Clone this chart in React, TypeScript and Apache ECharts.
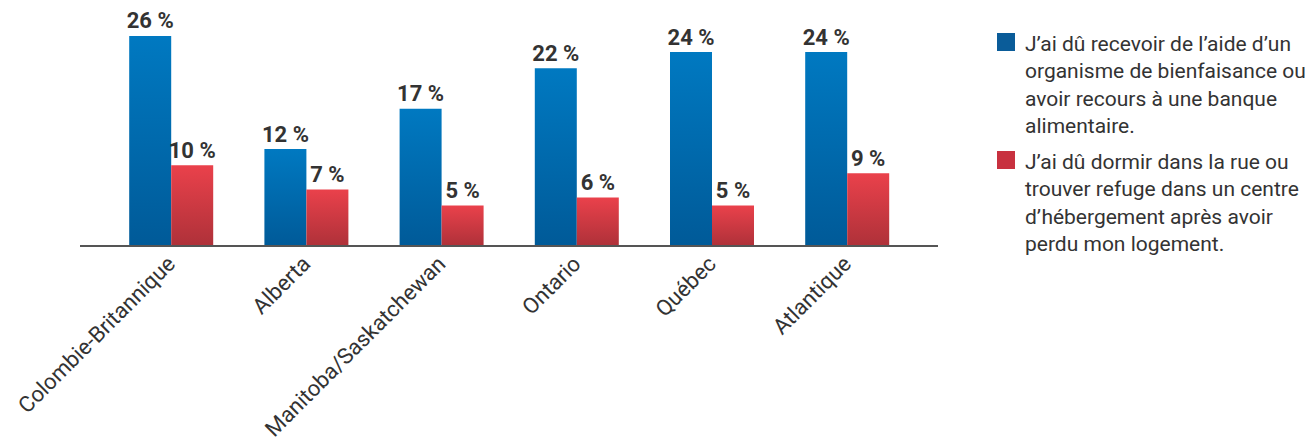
import React, { useEffect, useRef } from "react";
import * as echarts from "echarts";

const categories = [
  "Colombie-Britannique",
  "Alberta",
  "Manitoba/Saskatchewan",
  "Ontario",
  "Québec",
  "Atlantique",
];
const seriesNames = [
  "J’ai dû recevoir de l’aide d’un\norganisme de bienfaisance ou\navoir recours à une banque\nalimentaire.",
  "J’ai dû dormir dans la rue ou\ntrouver refuge dans un centre\nd’hébergement après avoir\nperdu mon logement.",
];
const foodBank = [26, 12, 17, 22, 24, 24];
const shelter = [10, 7, 5, 6, 5, 9];

const FONT = "Roboto, 'Liberation Sans', Arial, sans-serif";

export default function App() {
  const ref = useRef<HTMLDivElement>(null);
  useEffect(() => {
    if (!ref.current) return;
    const chart = echarts.init(ref.current, undefined, { renderer: "svg" });
    const blue = new echarts.graphic.LinearGradient(0, 0, 0, 1, [
      { offset: 0, color: "#0079c1" },
      { offset: 1, color: "#005a98" },
    ]);
    const red = new echarts.graphic.LinearGradient(0, 0, 0, 1, [
      { offset: 0, color: "#ea414b" },
      { offset: 1, color: "#ae3139" },
    ]);
    const labelCfg = {
      show: true,
      position: "top" as const,
      distance: 4,
      formatter: "{c} %",
      fontFamily: FONT,
      fontWeight: "bold" as const,
      fontSize: 22,
      color: "#333333",
    };
    const legendColors = ["#0a5c99", "#c8313f"];
    const legendY = [33, 151];
    const graphic: any[] = [
      {
        type: "line",
        shape: { x1: 80, y1: 246, x2: 938, y2: 246 },
        style: { stroke: "#555555", lineWidth: 2 },
        z: 10,
      },
    ];
    seriesNames.forEach((name, i) => {
      graphic.push({
        type: "rect",
        shape: { x: 997, y: legendY[i], width: 18, height: 18 },
        style: { fill: legendColors[i] },
      });
      graphic.push({
        type: "text",
        x: 1025,
        y: legendY[i] - 3,
        style: {
          text: name,
          fontFamily: FONT,
          fontSize: 21,
          lineHeight: 27.5,
          fill: "#333333",
          textVerticalAlign: "top",
        },
      });
    });
    chart.setOption({
      animation: false,
      grid: {
        left: 103.6,
        width: 811.2,
        top: 3.6,
        bottom: 194,
        containLabel: false,
        outerBoundsMode: "none",
      },
      xAxis: {
        type: "category",
        data: categories,
        axisLine: { show: false },
        axisTick: { show: false },
        axisLabel: {
          rotate: 45,
          margin: 14,
          interval: 0,
          fontFamily: FONT,
          fontSize: 22,
          color: "#333333",
        },
      },
      yAxis: {
        type: "value",
        min: 0,
        max: 30,
        show: false,
        splitLine: { show: false },
      },
      series: [
        {
          name: seriesNames[0],
          type: "bar",
          data: foodBank,
          barWidth: 42,
          barGap: "0%",
          itemStyle: { color: blue },
          label: labelCfg,
        },
        {
          name: seriesNames[1],
          type: "bar",
          data: shelter,
          barWidth: 42,
          barGap: "0%",
          itemStyle: { color: red },
          label: labelCfg,
        },
      ],
      graphic,
    });
    return () => chart.dispose();
  }, []);
  return (
    <div
      ref={ref}
      style={{ position: "fixed", left: 0, top: 0, width: 1305, height: 440, background: "#fff" }}
    />
  );
}
